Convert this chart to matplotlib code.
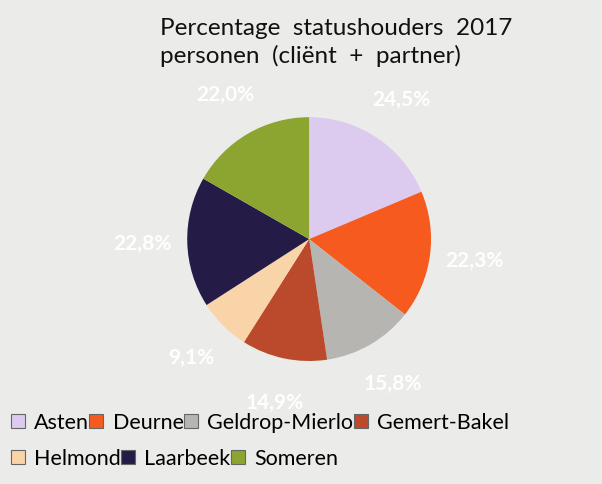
import matplotlib.pyplot as plt
from matplotlib.lines import Line2D

# values (labels don't add up to 100, slices follow them)
gemeenten = ["Asten", "Deurne", "Geldrop-Mierlo", "Gemert-Bakel",
             "Helmond", "Laarbeek", "Someren"]
percentages = [24.5, 22.3, 15.8, 14.9, 9.1, 22.8, 22.0]
kleuren = ["#dccbee", "#f65a1e", "#b7b5b1", "#bb4a2c",
           "#f9d4a8", "#241c47", "#8ba530"]

plt.rcParams['font.family'] = ['Lato', 'DejaVu Sans']

fig = plt.figure(figsize=(6.02, 4.84), dpi=100, facecolor="#ebebe9")

ax = fig.add_axes([0.311, 0.254, 0.405, 0.504])
labels = [f"{p:.1f}%".replace(".", ",") for p in percentages]
wedges, texts = ax.pie(percentages, startangle=90, counterclock=False,
                       colors=kleuren, labels=labels, labeldistance=1.37,
                       textprops=dict(color="white", fontsize=15, fontweight="bold"))
for t in texts:
    t.set_ha("center")
    t.set_va("center")
ax.set_xlim(-1, 1)
ax.set_ylim(-1, 1)
ax.set_aspect("equal")

fig.text(0.266, 0.962, "Percentage  statushouders  2017\npersonen  (cliënt  +  partner)",
         fontsize=17.5, va="top", ha="left", linespacing=1.3, color="#111111")

def maak_handles(namen):
    handles = []
    for naam in namen:
        i = gemeenten.index(naam)
        handles.append(Line2D([], [], marker="s", linestyle="none", markersize=9.5,
                              markerfacecolor=kleuren[i], markeredgecolor="#666666",
                              markeredgewidth=0.8))
    return handles

rij1 = gemeenten[:4]
rij2 = gemeenten[4:]
leg_opts = dict(frameon=False, fontsize=15.5, handlelength=0.7, handletextpad=0.4,
                columnspacing=0.0, loc="center left", borderaxespad=0, borderpad=0)
leg1 = fig.legend(maak_handles(rij1), rij1, ncol=4, bbox_to_anchor=(0.017, 0.126), **leg_opts)
leg2 = fig.legend(maak_handles(rij2), rij2, ncol=3, bbox_to_anchor=(0.017, 0.052), **leg_opts)

fig.savefig("out.png", dpi=100, facecolor=fig.get_facecolor())
